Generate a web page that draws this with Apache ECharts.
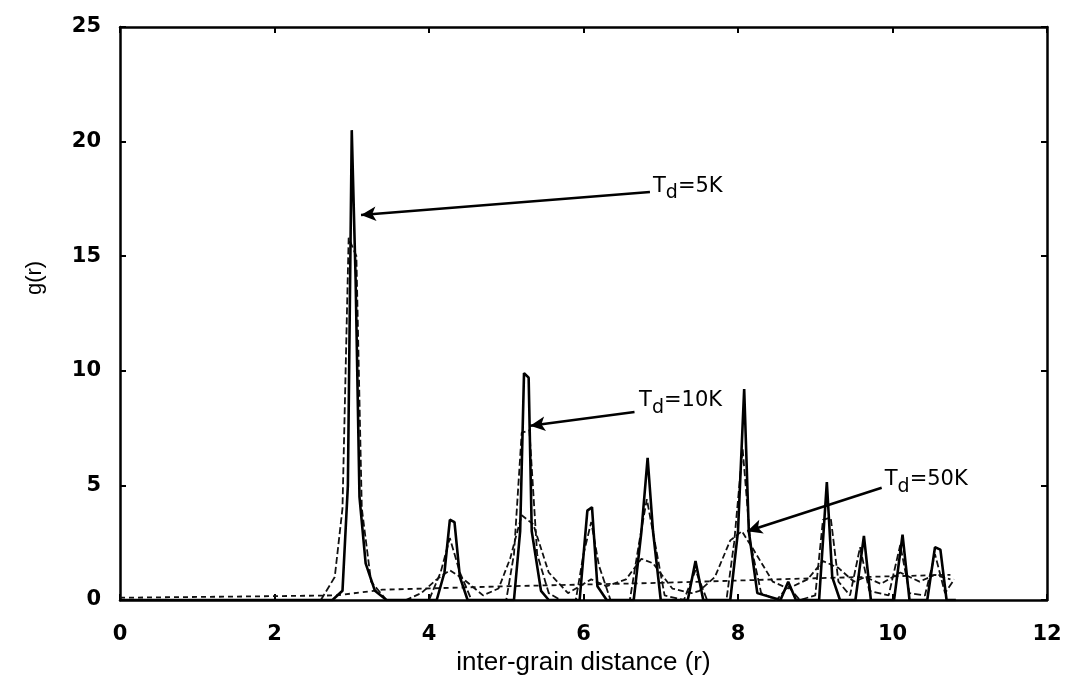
<!DOCTYPE html>
<html>
<head>
<meta charset="utf-8">
<title>g(r) vs inter-grain distance</title>
<script src="https://cdn.jsdelivr.net/npm/echarts@6/dist/echarts.min.js"></script>
<style>
  html, body { margin: 0; padding: 0; background: #fff; }
  #chart { width: 1083px; height: 691px; }
</style>
</head>
<body>
<div id="chart"></div>
<script>
// Pair-correlation curves g(r) for three deposition temperatures, [r, g(r)]
const td5K = [
  [0, 0], [2.75, 0], [2.88, 0.4], [2.95, 5], [3.0, 20.5], [3.05, 14], [3.1, 4.5], [3.18, 1.6],
  [3.3, 0.4], [3.45, 0], [4.1, 0], [4.2, 1.2], [4.27, 3.5], [4.33, 3.4], [4.4, 1], [4.5, 0],
  [5.1, 0], [5.18, 3], [5.23, 9.9], [5.29, 9.7], [5.33, 3], [5.45, 0.4], [5.55, 0],
  [5.95, 0], [6.05, 3.9], [6.11, 4.05], [6.18, 0.6], [6.3, 0],
  [6.65, 0], [6.75, 3], [6.83, 6.2], [6.9, 3], [7.0, 0],
  [7.35, 0], [7.45, 1.7], [7.55, 0],
  [7.9, 0], [8.0, 3], [8.08, 9.2], [8.14, 3], [8.25, 0.3], [8.55, 0], [8.65, 0.8], [8.75, 0],
  [9.05, 0], [9.15, 5.15], [9.22, 1], [9.32, 0],
  [9.52, 0], [9.63, 2.8], [9.72, 0],
  [10.02, 0], [10.13, 2.85], [10.22, 0],
  [10.45, 0], [10.55, 2.3], [10.62, 2.2], [10.7, 0], [10.82, 0]
];

const td10K = [
  [2.6, 0], [2.78, 1], [2.88, 4], [2.96, 15.8], [3.06, 15], [3.13, 4], [3.25, 0.8], [3.45, 0],
  [4.0, 0], [4.15, 1.2], [4.27, 2.7], [4.4, 1.2], [4.55, 0],
  [5.0, 0], [5.1, 2], [5.2, 7.3], [5.3, 7.4], [5.4, 2], [5.55, 0.3], [5.7, 0],
  [5.9, 0], [6.0, 2], [6.1, 3.4], [6.2, 1.5], [6.35, 0],
  [6.6, 0], [6.72, 2.5], [6.82, 4.4], [6.93, 2.4], [7.05, 0.2],
  [7.3, 0], [7.45, 1.3], [7.6, 0],
  [7.85, 0], [7.95, 2.5], [8.06, 6.6], [8.16, 2.5], [8.3, 0.3], [8.5, 0], [8.65, 0.6], [8.8, 0],
  [9.0, 0.2], [9.1, 3.5], [9.2, 3.6], [9.3, 0.8], [9.45, 0.2],
  [9.58, 2.3], [9.7, 0.4], [9.95, 0.2], [10.1, 2.4], [10.22, 0.3],
  [10.42, 0.2], [10.55, 2.0], [10.68, 0.3], [10.8, 0.9]
];

const td50K = [
  [3.7, 0], [3.9, 0.3], [4.1, 0.9], [4.27, 1.3], [4.45, 0.9], [4.7, 0.2],
  [4.9, 0.5], [5.05, 1.8], [5.2, 3.7], [5.35, 3.3], [5.55, 1.2], [5.8, 0.3],
  [6.0, 0.7], [6.1, 0.9], [6.3, 0.6], [6.55, 0.9], [6.75, 1.8], [6.9, 1.6], [7.15, 0.5],
  [7.4, 0.3], [7.5, 0.4], [7.7, 1.0], [7.9, 2.6], [8.05, 3.0], [8.2, 2.2], [8.45, 0.8],
  [8.65, 0.5], [8.9, 0.9], [9.1, 1.7], [9.3, 1.4], [9.5, 0.8], [9.65, 1.0], [9.85, 0.7],
  [10.1, 1.2], [10.35, 0.8], [10.55, 1.1], [10.75, 0.9]
];

// Nearly uniform background level
const baseline = [
  [0, 0.1], [1.5, 0.15], [2.8, 0.2], [3.4, 0.45], [5, 0.6], [7, 0.75], [9, 0.95], [10.75, 1.1]
];

// Annotation labels: text anchor, arrow start and arrow tip, in data units
const notes = [
  { temp: '5K',  text: [6.9, 18.05], from: [6.86, 17.8], tip: [3.12, 16.8] },
  { temp: '10K', text: [6.72, 8.7],  from: [6.66, 8.2],  tip: [5.31, 7.6] },
  { temp: '50K', text: [9.9, 5.25],  from: [9.86, 4.9],  tip: [8.12, 3.0] }
];

const xTicks = [0, 2, 4, 6, 8, 10, 12];
const yTicks = [0, 5, 10, 15, 20, 25];

const chart = echarts.init(document.getElementById('chart'), null, { renderer: 'canvas' });

const tickFont = { fontFamily: 'DejaVu Sans', fontWeight: 'bold', fontSize: 21, color: '#000' };
const tickStyle = { show: true, inside: true, length: 6, lineStyle: { color: '#000', width: 2 } };
const frameLine = { color: '#000', width: 2.5 };

const arrowLines = notes.map(n => [
  { coord: n.from, symbol: 'none' },
  { coord: n.tip, symbol: 'arrow', symbolSize: [11, 15] }
]);

const labelPoints = notes.map(n => ({
  coord: n.text,
  value: n.temp,
  symbol: 'circle',
  symbolSize: 0,
  label: {
    show: true,
    position: 'right',
    distance: 0,
    formatter: '{t|T}{s|d}{t|=' + n.temp + '}',
    rich: {
      t: { fontFamily: 'DejaVu Sans', fontSize: 21, color: '#000' },
      s: { fontFamily: 'DejaVu Sans', fontSize: 19, color: '#000', padding: [14, 0, 0, 0] }
    }
  }
}));

chart.setOption({
  animation: false,
  backgroundColor: '#fff',
  grid: { left: 120, right: 36, top: 27, bottom: 91, show: false },
  xAxis: [{
    type: 'value', min: 0, max: 12, interval: 2,
    name: 'inter-grain distance (r)', nameLocation: 'middle', nameGap: 48,
    nameTextStyle: { fontFamily: 'Liberation Sans', fontSize: 26, color: '#000' },
    axisLine: { show: true, lineStyle: frameLine },
    axisTick: tickStyle,
    axisLabel: Object.assign({ margin: 24, formatter: v => xTicks.includes(v) ? String(v) : '' }, tickFont),
    splitLine: { show: false }
  }, {
    type: 'value', min: 0, max: 12, interval: 2, position: 'top',
    axisLine: { show: true, onZero: false, lineStyle: frameLine },
    axisTick: tickStyle,
    axisLabel: { show: false }, splitLine: { show: false }
  }],
  yAxis: [{
    type: 'value', min: 0, max: 25, interval: 5,
    axisLine: { show: true, lineStyle: frameLine },
    axisTick: tickStyle,
    axisLabel: Object.assign({ margin: 19, formatter: v => yTicks.includes(v) ? String(v) : '' }, tickFont),
    splitLine: { show: false }
  }, {
    type: 'value', min: 0, max: 25, interval: 5, position: 'right',
    axisLine: { show: true, onZero: false, lineStyle: frameLine },
    axisTick: tickStyle,
    axisLabel: { show: false }, splitLine: { show: false }
  }],
  graphic: [{
    type: 'text',
    x: 35, y: 278,
    rotation: Math.PI / 2,
    style: {
      text: 'g(r)',
      fontFamily: 'Liberation Sans', fontSize: 22, fill: '#000',
      align: 'center', verticalAlign: 'middle'
    }
  }],
  series: [
    {
      name: 'background', type: 'line', data: baseline, symbol: 'none',
      lineStyle: { color: '#111', width: 1.8, type: [5, 4] }, z: 2
    },
    {
      name: 'Td=50K', type: 'line', data: td50K, symbol: 'none',
      lineStyle: { color: '#111', width: 1.8, type: [6, 3] }, z: 3
    },
    {
      name: 'Td=10K', type: 'line', data: td10K, symbol: 'none',
      lineStyle: { color: '#111', width: 1.8, type: [7, 3] }, z: 4
    },
    {
      name: 'Td=5K', type: 'line', data: td5K, symbol: 'none',
      lineStyle: { color: '#000', width: 2.6 }, z: 5,
      markLine: {
        silent: true, animation: false,
        lineStyle: { color: '#000', width: 2.6, type: 'solid' },
        label: { show: false },
        data: arrowLines
      },
      markPoint: {
        silent: true, animation: false,
        data: labelPoints
      }
    }
  ]
});
</script>
</body>
</html>
